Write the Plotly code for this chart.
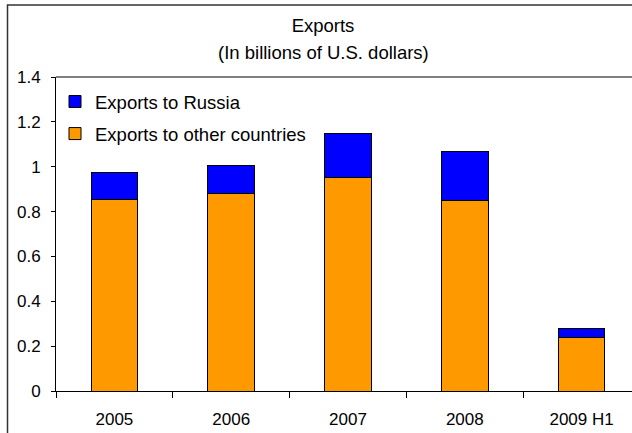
import plotly.graph_objects as go

# Export data, billions of U.S. dollars
periods = ["2005", "2006", "2007", "2008", "2009 H1"]
exports_other = [0.855, 0.88, 0.95, 0.85, 0.24]
exports_russia = [0.12, 0.125, 0.2, 0.22, 0.04]

y_ticks = [0, 0.2, 0.4, 0.6, 0.8, 1.0, 1.2, 1.4]
y_tick_labels = ["0", "0.2", "0.4", "0.6", "0.8", "1", "1.2", "1.4"]

W, H = 632, 433
ML, MR, MT, MB = 56, 0, 77, 41.5
plot_w = W - ML - MR
plot_h = H - MT - MB
cat_px = 116.8  # width of one category slot in pixels

FONT = "Liberation Sans, Arial, sans-serif"

fig = go.Figure()
fig.add_trace(go.Bar(
    x=periods, y=exports_other, name="Exports to other countries",
    marker=dict(color="#FF9900", line=dict(color="#000000", width=1)),
    legendgroup="other", legendrank=2,
))
fig.add_trace(go.Bar(
    x=periods, y=exports_russia, name="Exports to Russia",
    marker=dict(color="#0000FF", line=dict(color="#000000", width=1)),
    legendgroup="russia", legendrank=1,
))


def px_x(px):
    return (px - ML) / plot_w


def px_y(py):
    return (H - MB - py) / plot_h


shapes = [
    # top edge of the plot frame
    dict(type="line", xref="paper", yref="paper", x0=0, x1=1.05, y0=1, y1=1,
         line=dict(color="#000000", width=1)),
    # outer border around the whole chart
    dict(type="rect", xref="paper", yref="paper",
         x0=px_x(7.5), x1=px_x(W + 20), y0=px_y(H + 20), y1=px_y(5),
         line=dict(color="#333333", width=1.5), fillcolor="rgba(0,0,0,0)"),
]

fig.update_layout(
    width=W, height=H,
    margin=dict(l=ML, r=MR, t=MT, b=MB, pad=0),
    paper_bgcolor="white", plot_bgcolor="white",
    barmode="stack", bargap=0.6,
    font=dict(family=FONT, color="#000000", size=17),
    title=dict(
        text="Exports",
        x=323 / W, xanchor="center", xref="container",
        y=1 - 26 / H, yanchor="middle", yref="container",
        font=dict(family=FONT, size=18.5, color="#000000"),
    ),
    annotations=[dict(
        text="(In billions of U.S. dollars)", showarrow=False,
        xref="paper", yref="paper", x=px_x(323), y=px_y(52),
        xanchor="center", yanchor="middle",
        font=dict(family=FONT, size=18.5, color="#000000"),
    )],
    legend=dict(
        x=px_x(55), y=px_y(83), xanchor="left", yanchor="top",
        traceorder="grouped", tracegroupgap=5,
        bgcolor="rgba(0,0,0,0)", borderwidth=0,
        font=dict(family=FONT, size=18.5, color="#000000"),
        itemwidth=30,
    ),
    shapes=shapes,
    xaxis=dict(
        type="category", range=[-0.5, -0.5 + plot_w / cat_px],
        showline=True, linecolor="#000000", linewidth=1,
        ticks="outside", tickson="boundaries", ticklen=6, tickcolor="#000000",
        ticklabelstandoff=13,
        showgrid=False, zeroline=False,
        tickfont=dict(family=FONT, size=17, color="#000000"),
    ),
    yaxis=dict(
        range=[0, 1.4], tickvals=y_ticks, ticktext=y_tick_labels,
        showline=True, linecolor="#000000", linewidth=1,
        ticks="outside", ticklen=4, tickcolor="#000000",
        ticklabelstandoff=7,
        showgrid=False, zeroline=False,
        tickfont=dict(family=FONT, size=17, color="#000000"),
    ),
)

fig.write_html("out.html")
